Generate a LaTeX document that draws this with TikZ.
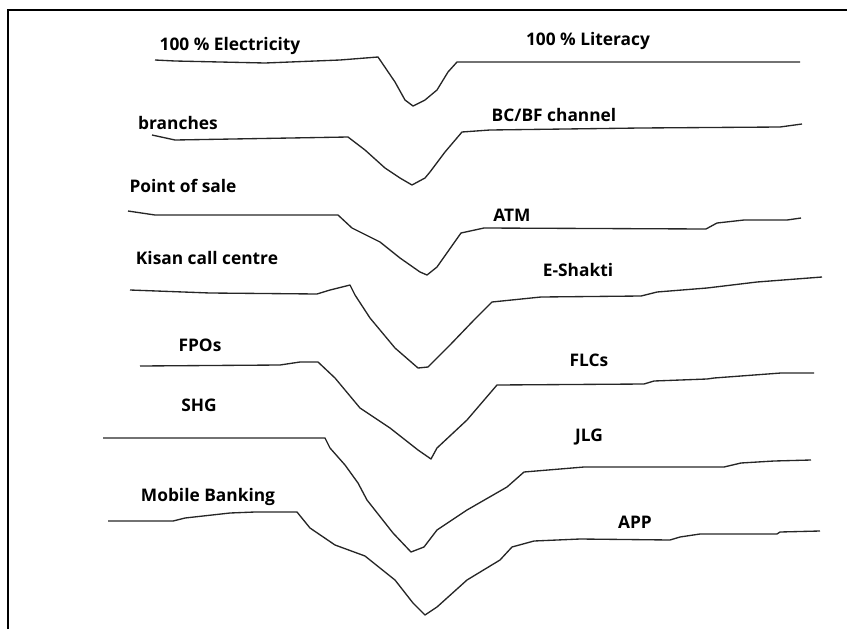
\documentclass[tikz,border=0pt]{standalone}
\usepackage{fontspec}
\setmainfont{Open Sans}
\usepackage{tikz}
\usetikzlibrary{positioning}

\begin{document}
\begin{tikzpicture}[
    x=0.75pt, y=-0.75pt,
    lbl/.style={font=\bfseries\fontsize{13}{15}\selectfont, inner sep=0pt, text height=1.6ex, text depth=0.4ex},
    trend/.style={line width=1pt, line join=round, black!85}
]
\useasboundingbox (0,0) rectangle (847,629);
% frame
\draw[line width=0.9pt] (8,629) -- (8,10) -- (847,10);

% labels, left then right
\node[lbl] (elec) at (230,46) {100 \% Electricity};
\node[lbl] (lit) at (588,41) {100 \% Literacy};
\node[lbl] (branch) at (178,125) {branches};
\node[lbl] (bcbf) at (554,117) {BC/BF channel};
\node[lbl] (pos) at (183,188) {Point of sale};
\node[lbl] (atm) at (512,217) {ATM};
\node[lbl] (kisan) at (207,260) {Kisan call centre};
\node[lbl] (eshakti) at (578,272) {E-Shakti};
\node[lbl] (fpo) at (200,347) {FPOs};
\node[lbl] (flc) at (589,362) {FLCs};
\node[lbl] (shg) at (199,407) {SHG};
\node[lbl] (jlg) at (589,437) {JLG};
\node[lbl] (mobile) at (208,497) {Mobile Banking};
\node[lbl] (app) at (635,524) {APP};

% the seven dips
\draw[trend] (155,60) -- (175,61) -- (265,63) -- (340,60) -- (378,57) -- (395,82) -- (405,100)
  -- (413,106) -- (425,100) -- (437,90) -- (448,72) -- (457,62) -- (800,62);
\draw[trend] (152,135) -- (175,140) -- (348,137) -- (365,150) -- (385,168) -- (400,178)
  -- (412,185) -- (425,178) -- (430,172) -- (445,152) -- (462,132) -- (490,130) -- (640,128)
  -- (780,127) -- (802,124);
\draw[trend] (128,211) -- (155,215) -- (338,215) -- (352,228) -- (380,242) -- (400,258)
  -- (420,272) -- (427,275) -- (437,267) -- (461,233) -- (484,228) -- (706,229) -- (717,223)
  -- (744,220) -- (787,220) -- (801,218);
\draw[trend] (130,290) -- (210,293) -- (317,294) -- (330,290) -- (350,285) -- (355,295)
  -- (370,318) -- (395,348) -- (418,368) -- (428,367) -- (450,345) -- (474,320) -- (492,302)
  -- (541,297) -- (641,296) -- (657,292) -- (707,288) -- (757,282) -- (822,277);
\draw[trend] (140,366) -- (280,365) -- (300,362) -- (318,362) -- (335,378) -- (360,408)
  -- (390,428) -- (418,450) -- (431,459) -- (437,448) -- (467,420) -- (497,385) -- (644,384)
  -- (654,381) -- (707,379) -- (714,378) -- (781,373) -- (814,373);
\draw[trend] (103,438) -- (325,438) -- (330,448) -- (345,465) -- (358,483) -- (367,500)
  -- (393,533) -- (411,552) -- (424,547) -- (437,530) -- (467,510) -- (507,487) -- (524,472)
  -- (584,467) -- (724,467) -- (741,463) -- (774,461) -- (811,460);
\draw[trend] (108,521) -- (173,521) -- (185,518) -- (230,513) -- (255,512) -- (297,512)
  -- (310,528) -- (335,545) -- (365,556) -- (395,580) -- (413,603) -- (425,615) -- (437,607)
  -- (467,580) -- (500,560) -- (512,547) -- (534,541) -- (580,539) -- (670,540) -- (680,537)
  -- (700,534) -- (777,534) -- (780,532) -- (820,531);
\end{tikzpicture}
\end{document}
